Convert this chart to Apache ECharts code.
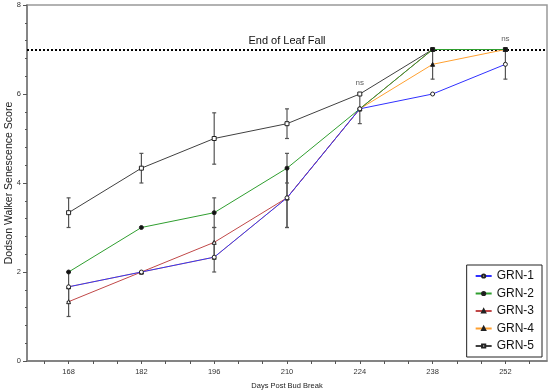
<!DOCTYPE html>
<html><head><meta charset="utf-8">
<script src="https://cdn.jsdelivr.net/npm/echarts@6/dist/echarts.min.js"></script>
<style>html,body{margin:0;padding:0;background:#fff}#c{width:550px;height:391px}</style>
</head><body><div id="c"></div>
<script>
var days = [168, 182, 196, 210, 224, 238, 252];
var xTickLabels = [168, 182, 196, 210, 224, 238, 252];
var yTickLabels = [0, 2, 4, 6, 8];
var seriesNames = ['GRN-1', 'GRN-2', 'GRN-3', 'GRN-4', 'GRN-5'];
var grn1 = [1.667, 2, 2.333, 3.667, 5.667, 6, 6.667];
var grn2 = [2, 3, 3.333, 4.333, 5.667, 7, 7];
var grn3 = [1.333, 2, 2.667, 3.667, 5.667, 7, 7];
var grn4 = [1.667, 2, 2.333, 3.667, 5.667, 6.667, 7];
var grn5 = [3.333, 4.333, 5, 5.333, 6, 7, 7];
var err1 = [0.333, 0, 0.333, 0.667, 0.333, 0, 0.333];
var err2 = [0, 0, 0.333, 0.333, 0, 0, 0];
var err3 = [0.333, 0, 0.333, 0.667, 0, 0, 0];
var err4 = [0, 0, 0, 0, 0, 0.333, 0];
var err5 = [0.333, 0.333, 0.577, 0.333, 0, 0, 0];
var leafFallScore = 7;
var leafFallLabel = 'End of Leaf Fall';
var nsPoints = [[224, 6], [252, 7]];
var xTitle = 'Days Post Bud Break';
var yTitle = 'Dodson Walker Senescence Score';

var values = [grn1, grn2, grn3, grn4, grn5];
var errs = [err1, err2, err3, err4, err5];
var lineColors = ['#3030ff', '#2f9e2f', '#c04848', '#ffa030', '#404040'];
var symbols = ['circle', 'circle', 'triangle', 'triangle', 'rect'];
var fills = ['#ffffff', '#111111', '#ffffff', '#111111', '#ffffff'];

var minorTicks = [];
for (var k = -1; k <= 19; k++) { minorTicks.push(168 + k * 14 / 3); }

var series = [];
var errData = [];
values.forEach(function (vals, i) {
  series.push({
    name: seriesNames[i], type: 'line',
    data: days.map(function (d, j) { return [d, vals[j]]; }),
    symbol: symbols[i], symbolSize: 4,
    lineStyle: { color: lineColors[i], width: 1 },
    itemStyle: { color: fills[i], borderColor: '#222', borderWidth: 1 },
    z: 20 - i * 2
  });
  days.forEach(function (d, j) {
    if (errs[i][j] > 0) errData.push([d, vals[j] - errs[i][j], vals[j] + errs[i][j]]);
  });
});
series.push({
  type: 'custom', name: 'err', z: 5, silent: true,
  data: errData,
  renderItem: function (params, api) {
    var x = api.value(0);
    var lo = api.coord([x, api.value(1)]);
    var hi = api.coord([x, api.value(2)]);
    var w = 2;
    var st = { stroke: '#555', lineWidth: 1.2 };
    return { type: 'group', children: [
      { type: 'line', shape: { x1: lo[0], y1: lo[1], x2: hi[0], y2: hi[1] }, style: st },
      { type: 'line', shape: { x1: lo[0] - w, y1: lo[1], x2: lo[0] + w, y2: lo[1] }, style: st },
      { type: 'line', shape: { x1: hi[0] - w, y1: hi[1], x2: hi[0] + w, y2: hi[1] }, style: st }
    ] };
  }
});
series.push({
  type: 'scatter', name: 'ns', symbolSize: 0, z: 30, silent: true,
  data: nsPoints,
  label: { show: true, formatter: 'ns', position: 'top', distance: 7, fontSize: 8, color: '#333', fontFamily: 'Liberation Sans' },
  markLine: {
    silent: true, symbol: 'none',
    data: [{ yAxis: leafFallScore }],
    lineStyle: { type: [2, 2], color: '#000', width: 2 },
    label: { show: true, position: 'middle', formatter: leafFallLabel, fontSize: 11, color: '#111', fontFamily: 'Liberation Sans', distance: 3 }
  }
});

var chart = echarts.init(document.getElementById('c'));
chart.setOption({
  animation: false,
  textStyle: { fontFamily: 'Liberation Sans' },
  grid: { left: 27, top: 5, right: 3, bottom: 30, containLabel: false, outerBoundsMode: 'none',
    show: true, borderColor: '#999', borderWidth: 1.5 },
  xAxis: {
    type: 'value', min: 160, max: 260,
    name: xTitle, nameLocation: 'middle', nameGap: 21, nameMoveOverlap: false,
    nameTextStyle: { fontSize: 7.5, color: '#222' },
    axisLine: { lineStyle: { color: '#777', width: 1.5 } },
    axisTick: { show: true, customValues: minorTicks, length: 3, lineStyle: { color: '#555' } },
    axisLabel: { customValues: xTickLabels, fontSize: 7.5, color: '#333', margin: 7 },
    splitLine: { show: false }
  },
  yAxis: {
    type: 'value', min: 0, max: 8, interval: 2,
    name: yTitle, nameLocation: 'middle', nameGap: 12, nameMoveOverlap: false,
    nameTextStyle: { fontSize: 10.5, color: '#222' },
    axisLine: { show: true, lineStyle: { color: '#777', width: 1.5 } },
    axisTick: { show: true, length: 4, lineStyle: { color: '#555' } },
    minorTick: { show: true, splitNumber: 5, length: 2, lineStyle: { color: '#555' } },
    axisLabel: { fontSize: 7.5, color: '#333', margin: 6,
      formatter: function (v) { return yTickLabels.indexOf(v) >= 0 ? String(v) : ''; } },
    splitLine: { show: false }
  },
  legend: {
    data: seriesNames, orient: 'vertical', right: 8, bottom: 34,
    borderColor: '#222', borderWidth: 1, padding: [5, 8, 5, 8],
    itemWidth: 16, itemHeight: 4, itemGap: 5.5,
    textStyle: { fontSize: 12, color: '#111' }
  },
  series: series
});
</script></body></html>
